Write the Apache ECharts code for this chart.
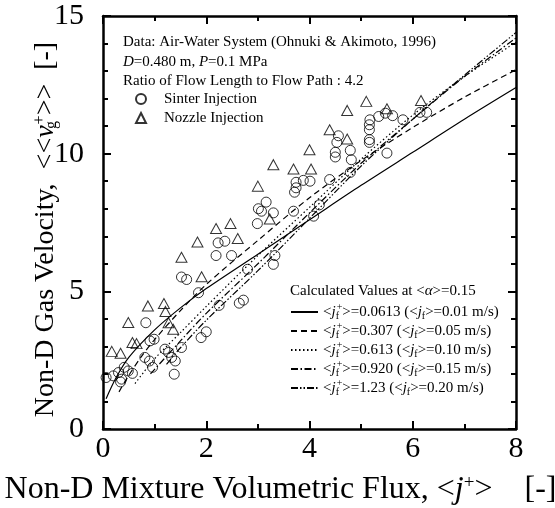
<!DOCTYPE html>
<html>
<head>
<meta charset="utf-8">
<script src="https://cdn.jsdelivr.net/npm/echarts@6/dist/echarts.min.js"></script>
<style>
html, body { margin: 0; padding: 0; background: #fff; }
#main { width: 555px; height: 508px; }
</style>
</head>
<body>
<div id="main"></div>
<script>
// measured data, Ohnuki & Akimoto (1996)
var sinterPts = [
	[0.06,1.87],[0.2,1.93],[0.3,2.05],[0.41,2.24],[0.36,1.81],[0.34,1.71],[0.49,2.11],[0.57,2.02],
	[0.83,3.86],[0.81,2.6],[0.91,3.2],[0.99,3.26],[0.9,2.47],[0.96,2.24],[1.2,2.9],[1.27,2.78],
	[1.33,2.6],[1.4,2.47],[1.38,1.99],[1.52,2.96],[1.9,3.32],[2.0,3.53],[1.85,4.95],[1.52,5.52],
	[1.62,5.43],[2.25,4.49],[2.64,4.57],[2.72,4.68],[2.8,5.8],[2.19,6.3],[2.49,6.3],[2.23,6.76],
	[2.36,6.82],[3.33,6.3],[3.3,5.98],[2.99,7.46],[3.01,8.0],[3.07,7.91],[3.16,8.24],[3.3,7.85],
	[3.69,7.91],[4.08,7.73],[4.19,8.14],[3.71,8.6],[3.74,8.76],[3.74,8.96],[3.88,9.03],[4.01,9.0],
	[4.39,9.06],[4.79,9.32],[4.5,9.88],[4.5,10.05],[4.53,10.41],[4.56,10.65],[4.79,10.12],[4.81,9.78],
	[5.16,10.41],[5.16,10.51],[5.16,10.87],[5.16,11.05],[5.17,11.23],[5.34,11.35],[5.47,11.47],
	[5.61,11.38],[5.81,11.23],[5.5,10.02],[6.14,11.5],[6.27,11.5]
];
var nozzlePts = [
	[0.17,2.82],[0.34,2.75],[0.49,3.87],[0.57,3.14],[0.65,3.1],[0.87,4.47],[1.18,4.56],[1.21,4.27],
	[1.27,3.86],[1.36,3.62],[1.52,6.24],[1.83,6.79],[1.91,5.53],[2.19,7.28],[2.47,7.46],[2.61,6.92],
	[3.0,8.82],[3.23,7.63],[3.3,9.6],[3.69,9.44],[4.03,9.44],[4.0,10.14],[4.39,10.87],[4.73,10.53],
	[4.73,11.57],[5.1,11.9],[5.5,11.63],[6.16,11.93]
];

// calculated values at <alpha>=0.15
var calc0613 = [[0.06,1.1],[0.25,1.85],[0.5,2.6],[1,3.6],[1.5,4.4],[2,5.1],[3,6.35],[4,7.6],[5,8.85],[6,10.05],[7,11.25],[8,12.4]];
var calc307  = [[0.31,1.35],[0.5,1.95],[0.75,2.65],[1,3.25],[1.5,4.3],[2,5.25],[3,6.85],[4,8.4],[5,9.75],[6,10.95],[7,12.05],[8,13.05]];
var calc613  = [[0.62,1.65],[1,2.55],[1.5,3.5],[2,4.45],[3,6.3],[4,8.05],[5,9.8],[6,11.4],[7,12.8],[8,14.05]];
var calc920  = [[0.92,2.0],[1.5,3.2],[2,4.2],[3,6.0],[4,7.85],[5,9.65],[6,11.25],[7,12.8],[8,14.2]];
var calc123  = [[1.23,2.35],[1.5,2.95],[2,3.95],[3,5.75],[4,7.65],[5,9.55],[6,11.25],[7,12.85],[8,14.4]];

var jfPlus = ['0.0613', '0.307', '0.613', '0.920', '1.23'];
var jfMs   = ['0.01', '0.05', '0.10', '0.15', '0.20'];
var calcData = [calc0613, calc307, calc613, calc920, calc123];

var FONT = 'Liberation Serif';
var DASH = ['solid', [6,4], [1.5,2.5], [7,2.5,1.5,2.5], [7,2,1.5,2,1.5,2]];

// sub: normal subscript, subz: zero-width subscript so the following superscript stacks above it
function makeRich(size, small) {
	return {
		i:    { fontFamily: FONT, fontSize: size, fontStyle: 'italic', color: '#000' },
		sub:  { fontFamily: FONT, fontSize: small, verticalAlign: 'bottom', color: '#000' },
		subz: { fontFamily: FONT, fontSize: small, verticalAlign: 'bottom', color: '#000', width: 1, align: 'left' },
		sup:  { fontFamily: FONT, fontSize: small, verticalAlign: 'top', color: '#000' }
	};
}

function axisCommon(interval, max, minorSplit) {
	return {
		type: 'value',
		min: 0,
		max: max,
		interval: interval,
		nameMoveOverlap: false,
		axisLine: { onZero: false, lineStyle: { color: '#000', width: 2.5 } },
		axisTick: { inside: true, length: 8, lineStyle: { color: '#000', width: 2 } },
		minorTick: { show: true, splitNumber: minorSplit, length: 5, lineStyle: { color: '#000', width: 2 } },
		splitLine: { show: false },
		axisLabel: { fontFamily: FONT, fontSize: 30, color: '#000' }
	};
}

var xBottom = axisCommon(2, 8, 2);
xBottom.position = 'bottom';
xBottom.axisLabel.margin = 5;
xBottom.name = 'Non-D Mixture Volumetric Flux, <{i|j}{sup|+}>    [-]';
xBottom.nameLocation = 'middle';
xBottom.nameGap = 45;
xBottom.nameTextStyle = { fontFamily: FONT, fontSize: 32, color: '#000', padding: [0, 58, 0, 0], rich: makeRich(32, 19) };

var xTop = axisCommon(2, 8, 2);
xTop.position = 'top';
xTop.axisLabel = { show: false };

var yLeft = axisCommon(5, 15, 5);
yLeft.position = 'left';
yLeft.axisLabel.margin = 19;
yLeft.name = 'Non-D Gas Velocity,  <<{i|v}{subz|g}{sup|+}>>  [-]';
yLeft.nameLocation = 'middle';
yLeft.nameGap = 43;
yLeft.nameTextStyle = { fontFamily: FONT, fontSize: 28, color: '#000', padding: [0, 14, 0, 0], rich: makeRich(28, 16) };

var yRight = axisCommon(5, 15, 5);
yRight.position = 'right';
yRight.axisLabel = { show: false };

var series = [
	{
		name: 'Sinter Injection', type: 'scatter', data: sinterPts,
		symbol: 'circle', symbolSize: 10,
		itemStyle: { color: 'rgba(0,0,0,0)', borderColor: '#000', borderWidth: 1 }
	},
	{
		name: 'Nozzle Injection', type: 'scatter', data: nozzlePts,
		symbol: 'triangle', symbolSize: [11, 10],
		itemStyle: { color: 'rgba(0,0,0,0)', borderColor: '#000', borderWidth: 1 }
	}
];
for (var k = 0; k < calcData.length; k++) {
	series.push({
		name: jfPlus[k], type: 'line', data: calcData[k],
		symbol: 'none', smooth: 0.3,
		lineStyle: { color: '#000', width: 1.2, type: DASH[k] },
		itemStyle: { color: 'rgba(0,0,0,0)', borderWidth: 0 }
	});
}

var option = {
	animation: false,
	backgroundColor: '#fff',
	grid: { left: 103, right: 39, top: 16, bottom: 79, outerBoundsMode: 'none' },
	xAxis: [xBottom, xTop],
	yAxis: [yLeft, yRight],
	legend: [
		{
			data: ['Sinter Injection', 'Nozzle Injection'],
			orient: 'vertical', left: 135, top: 89.5, padding: 0,
			itemWidth: 10, itemHeight: 10, itemGap: 0,
			textStyle: { fontFamily: FONT, fontSize: 15, color: '#000', lineHeight: 19, padding: [0, 0, 0, 13] }
		},
		{
			data: jfPlus,
			orient: 'vertical', left: 290, top: 302.5, padding: 0,
			itemWidth: 27, itemHeight: 10, itemGap: 0,
			formatter: function(name) {
				var k = jfPlus.indexOf(name);
				return '<{i|j}{subz|f}{sup|+}>=' + name + ' (<{i|j}{sub|f}>=' + jfMs[k] + ' m/s)';
			},
			textStyle: { fontFamily: FONT, fontSize: 15, color: '#000', lineHeight: 19, rich: makeRich(15, 10) }
		}
	],
	graphic: [
		{ type: 'text', x: 123, y: 42, style: { text: 'Data: Air-Water System (Ohnuki & Akimoto, 1996)', fontFamily: FONT, fontSize: 15, fill: '#000', verticalAlign: 'middle' } },
		{ type: 'text', x: 123, y: 62, style: { text: '{i|D}=0.480 m, {i|P}=0.1 MPa', fontFamily: FONT, fontSize: 15, fill: '#000', verticalAlign: 'middle', rich: makeRich(15, 10) } },
		{ type: 'text', x: 123, y: 81, style: { text: 'Ratio of Flow Length to Flow Path : 4.2', fontFamily: FONT, fontSize: 15, fill: '#000', verticalAlign: 'middle' } },
		{ type: 'text', x: 290, y: 291, style: { text: 'Calculated Values at <{i|α}>=0.15', fontFamily: FONT, fontSize: 15, fill: '#000', verticalAlign: 'middle', rich: makeRich(15, 10) } }
	],
	series: series
};

var chart = echarts.init(document.getElementById('main'));
chart.setOption(option);
</script>
</body>
</html>
